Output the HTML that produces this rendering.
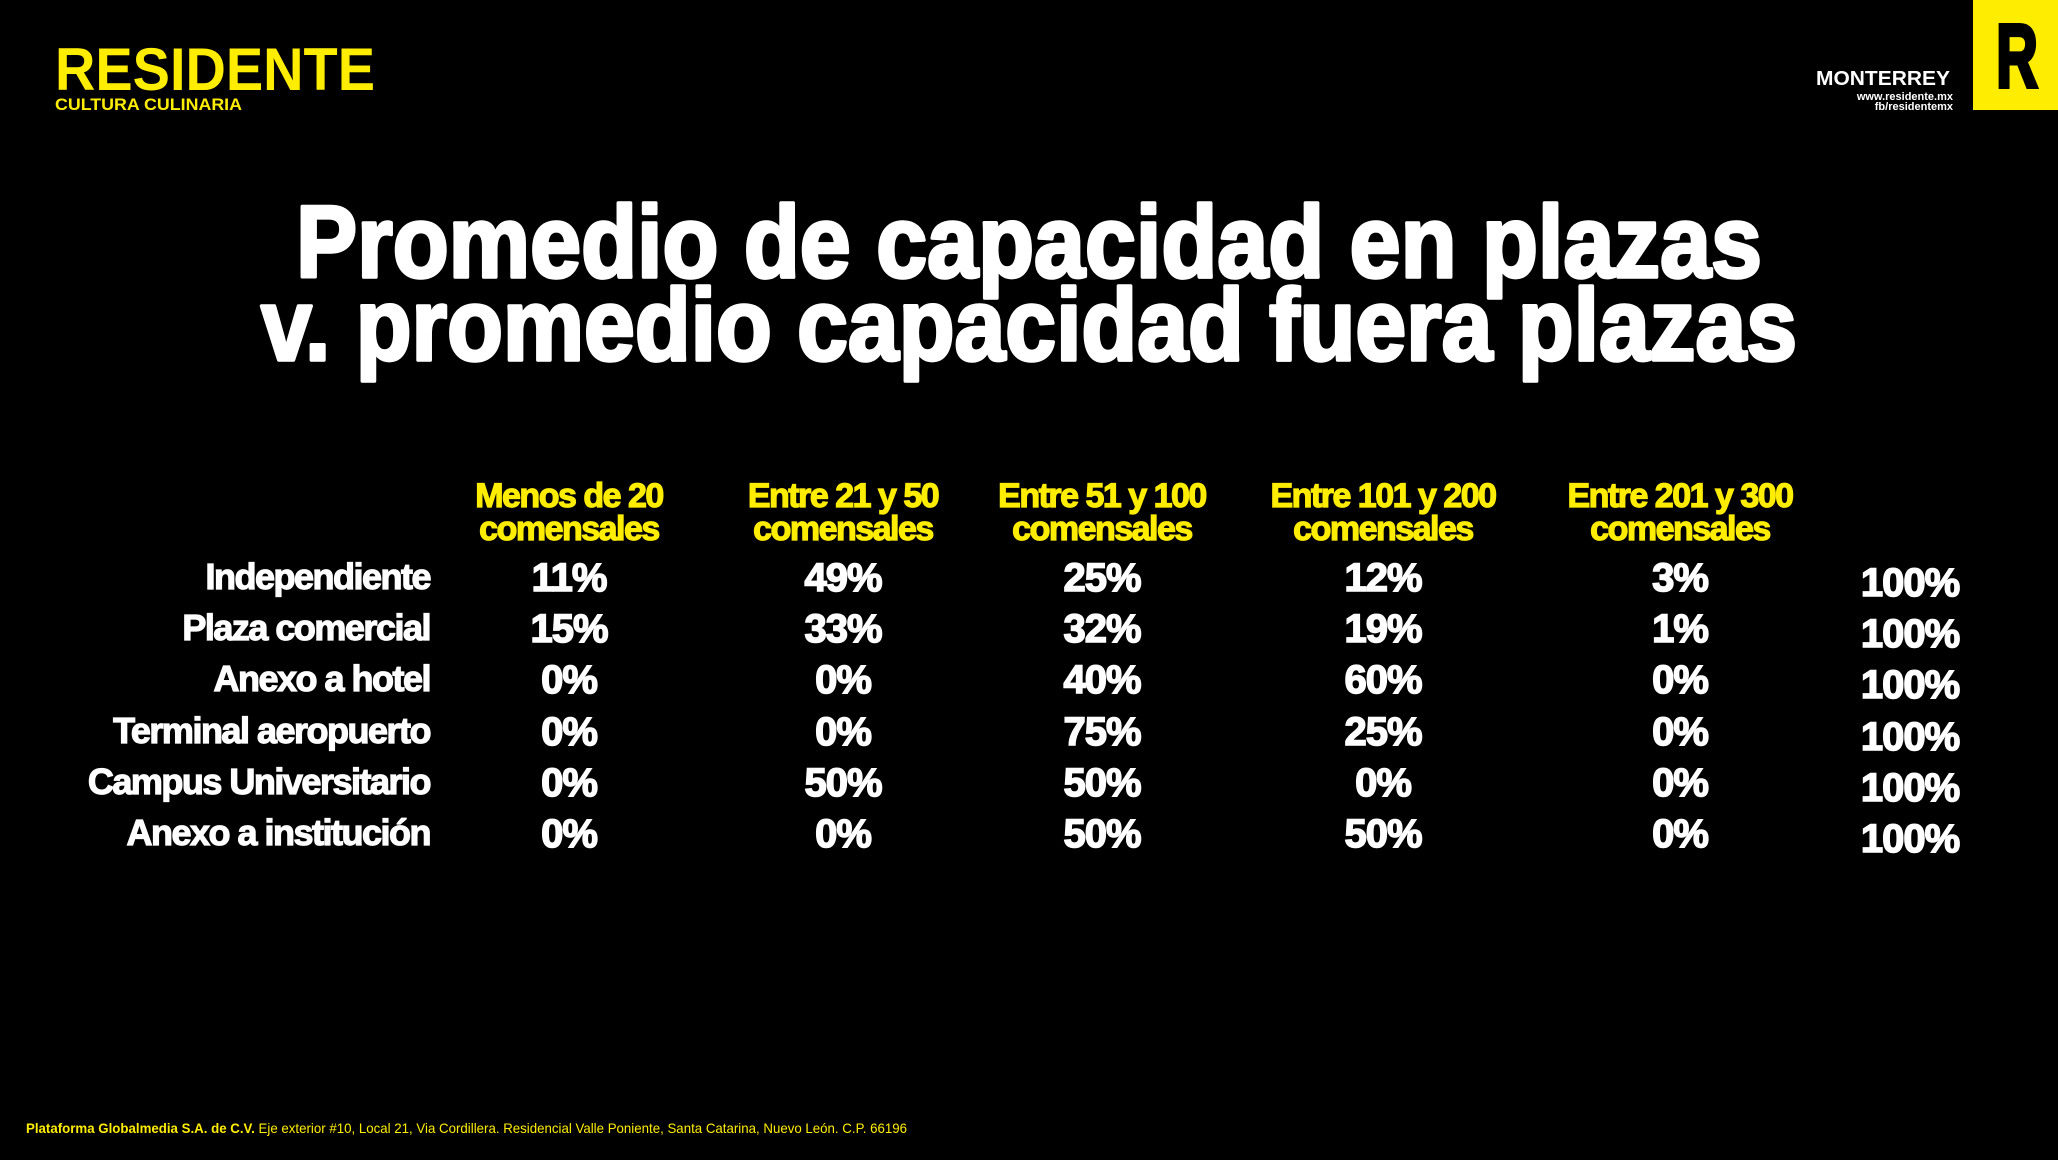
<!DOCTYPE html>
<html><head><meta charset="utf-8"><style>
html,body{margin:0;padding:0;background:#000;}
svg{display:block;}
text{font-family:"Liberation Sans",sans-serif;font-weight:bold;}
</style></head><body>
<svg width="2058" height="1160" viewBox="0 0 2058 1160" xmlns="http://www.w3.org/2000/svg">
<rect width="2058" height="1160" fill="#000"/>
<!-- logo -->
<text x="55" y="90" fill="#ffed00" font-size="60" textLength="320" lengthAdjust="spacingAndGlyphs" style="font-family:'Liberation Sans Narrow','Liberation Sans',sans-serif">RESIDENTE</text>
<text x="55" y="110" fill="#ffed00" font-size="17" textLength="187" lengthAdjust="spacingAndGlyphs">CULTURA CULINARIA</text>
<rect x="1973" y="0" width="85" height="110" fill="#ffed00"/>
<text x="1996" y="87" fill="#000" stroke="#000" stroke-width="4" font-size="90" textLength="42" lengthAdjust="spacingAndGlyphs" style="font-family:'Liberation Sans Narrow','Liberation Sans',sans-serif">R</text>
<text x="1950" y="85" fill="#fff" font-size="20" text-anchor="end" textLength="134" lengthAdjust="spacingAndGlyphs">MONTERREY</text>
<text x="1953" y="100" fill="#fff" font-size="11" text-anchor="end">www.residente.mx</text>
<text x="1953" y="110" fill="#fff" font-size="11" text-anchor="end">fb/residentemx</text>
<!-- title -->
<g fill="#fff" stroke="#fff" stroke-width="3.5" stroke-linejoin="round">
<text x="296" y="277" font-size="102" textLength="1466" lengthAdjust="spacingAndGlyphs">Promedio de capacidad en plazas</text>
<text x="261" y="360" font-size="102" textLength="1536" lengthAdjust="spacingAndGlyphs">v. promedio capacidad fuera plazas</text>
</g>
<!-- headers -->
<g fill="#ffed00" stroke="#ffed00" stroke-width="1.2" font-size="34" text-anchor="middle" letter-spacing="-1.5">
<text x="569" y="507">Menos de 20</text><text x="569" y="540">comensales</text>
<text x="843" y="507">Entre 21 y 50</text><text x="843" y="540">comensales</text>
<text x="1102" y="507">Entre 51 y 100</text><text x="1102" y="540">comensales</text>
<text x="1383" y="507">Entre 101 y 200</text><text x="1383" y="540">comensales</text>
<text x="1680" y="507">Entre 201 y 300</text><text x="1680" y="540">comensales</text>
</g>
<!-- labels -->
<g fill="#fff" stroke="#fff" stroke-width="1.2" font-size="36" text-anchor="end" letter-spacing="-1.5">
<text x="430" y="589">Independiente</text>
<text x="430" y="640">Plaza comercial</text>
<text x="430" y="691">Anexo a hotel</text>
<text x="430" y="743">Terminal aeropuerto</text>
<text x="430" y="794">Campus Universitario</text>
<text x="430" y="845">Anexo a institución</text>
</g>
<g fill="#fff" stroke="#fff" stroke-width="1.5" font-size="40" text-anchor="middle" letter-spacing="-1">
<text x="569" y="591">11%</text><text x="843" y="591">49%</text><text x="1102" y="591">25%</text><text x="1383" y="591">12%</text><text x="1680" y="591">3%</text><text x="1910" y="596">100%</text>
<text x="569" y="642">15%</text><text x="843" y="642">33%</text><text x="1102" y="642">32%</text><text x="1383" y="642">19%</text><text x="1680" y="642">1%</text><text x="1910" y="647">100%</text>
<text x="569" y="693">0%</text><text x="843" y="693">0%</text><text x="1102" y="693">40%</text><text x="1383" y="693">60%</text><text x="1680" y="693">0%</text><text x="1910" y="698">100%</text>
<text x="569" y="745">0%</text><text x="843" y="745">0%</text><text x="1102" y="745">75%</text><text x="1383" y="745">25%</text><text x="1680" y="745">0%</text><text x="1910" y="750">100%</text>
<text x="569" y="796">0%</text><text x="843" y="796">50%</text><text x="1102" y="796">50%</text><text x="1383" y="796">0%</text><text x="1680" y="796">0%</text><text x="1910" y="801">100%</text>
<text x="569" y="847">0%</text><text x="843" y="847">0%</text><text x="1102" y="847">50%</text><text x="1383" y="847">50%</text><text x="1680" y="847">0%</text><text x="1910" y="852">100%</text>
</g>
<!-- footer -->
<text x="26" y="1133" fill="#ffed00" font-size="14" textLength="881" lengthAdjust="spacingAndGlyphs">Plataforma Globalmedia S.A. de C.V. <tspan font-weight="normal">Eje exterior #10, Local 21, Via Cordillera. Residencial Valle Poniente, Santa Catarina, Nuevo León. C.P. 66196</tspan></text>
</svg>
</body></html>
